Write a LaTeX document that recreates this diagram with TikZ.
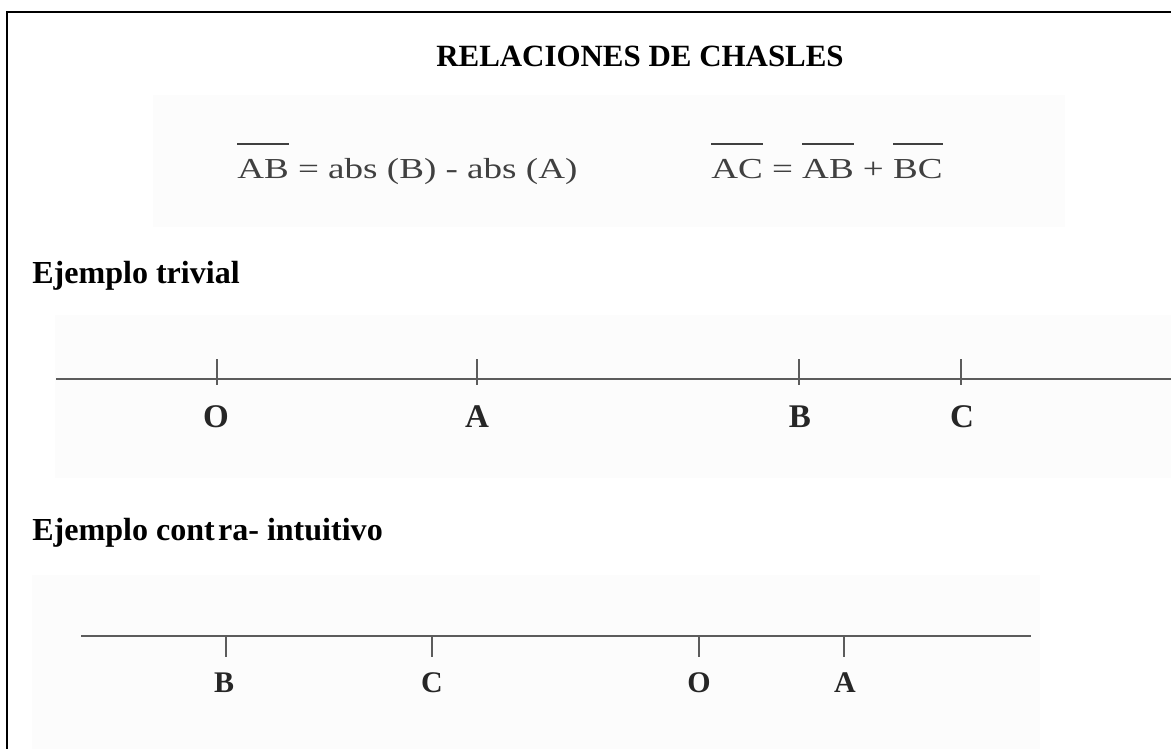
\documentclass[tikz,border=0pt]{standalone}
\usepackage{fontspec}
\setmainfont{Liberation Serif}
\usepackage{graphicx}
\usepackage{tikz}
\definecolor{inkgray}{rgb}{0.25,0.25,0.25}
\definecolor{linegray}{rgb}{0.36,0.36,0.36}
\definecolor{scanbg}{rgb}{0.99,0.99,0.99}
% segment with a bar on top
\newcommand{\seg}[1]{\leavevmode\vbox{\hrule height 1.6pt\kern 0.48em\hbox{#1}}}

\begin{document}
\begin{tikzpicture}[x=0.025cm, y=-0.025cm,
    every node/.style={inner sep=0pt},
    ttl/.style={anchor=base, font=\fontsize{22}{26}\selectfont\bfseries},
    formula/.style={anchor=base west, text=inkgray, font=\fontsize{20.6}{24}\selectfont},
    heading/.style={anchor=base west, font=\fontsize{22.8}{27}\selectfont\bfseries},
    ptbig/.style={anchor=base, text=black!85, font=\fontsize{23.5}{28}\selectfont\bfseries},
    ptsmall/.style={anchor=base, text=black!85, font=\fontsize{21.3}{25}\selectfont\bfseries},
    axis/.style={line width=2.1pt, draw=linegray},
    tick/.style={line width=1pt, draw=linegray},
    shade/.style={fill=scanbg, draw=none},
]
    \useasboundingbox (0,0) rectangle (1171,749);

    % faint scanned panels
    \fill[shade] (153,95) rectangle (1065,227);
    \fill[shade] (55,315) rectangle (1171,478);
    \fill[shade] (32,575) rectangle (1040,749);

    % frame (runs off the right and bottom edges)
    \draw[line width=1.5pt] (1171,12) -- (7,12) -- (7,749);

    \node[ttl] (title) at (640,67) {RELACIONES DE CHASLES};

    % Chasles formulas
    \node[formula] (f1) at (237,178) {\scalebox{1.28}[1]{\seg{AB} = abs (B) - abs (A)}};
    \node[formula] (f2) at (711,178) {\scalebox{1.28}[1]{\seg{AC} = \seg{AB} + \seg{BC}}};

    % First example
    \node[heading] (ex1) at (32,283) {Ejemplo trivial};

    \coordinate (a1w) at (56,379);
    \coordinate (a1e) at (1171,379);
    \draw[axis] (a1w) -- (a1e);

    \draw[tick] (217,359) -- (217,385);
    \draw[tick] (477,359) -- (477,385);
    \draw[tick] (799,359) -- (799,385);
    \draw[tick] (961,359) -- (961,385);

    \node[ptbig] (o1) at (216,427) {O};
    \node[ptbig] (a1) at (477,427) {A};
    \node[ptbig] (b1) at (800,427) {B};
    \node[ptbig] (c1) at (962,427) {C};

    % Second example
    \node[heading] (ex2) at (32,540) {Ejemplo cont\hspace{0.1em}ra- intuitivo};

    \coordinate (a2w) at (81,636);
    \coordinate (a2e) at (1031,636);
    \draw[axis, line width=1.8pt] (a2w) -- (a2e);

    \draw[tick] (226,636) -- (226,657);
    \draw[tick] (432,636) -- (432,657);
    \draw[tick] (699,636) -- (699,657);
    \draw[tick] (844,636) -- (844,657);

    \node[ptsmall] (b2) at (224,692) {B};
    \node[ptsmall] (c2) at (432,692) {C};
    \node[ptsmall] (o2) at (699,692) {O};
    \node[ptsmall] (a2) at (845,692) {A};

\end{tikzpicture}
\end{document}
